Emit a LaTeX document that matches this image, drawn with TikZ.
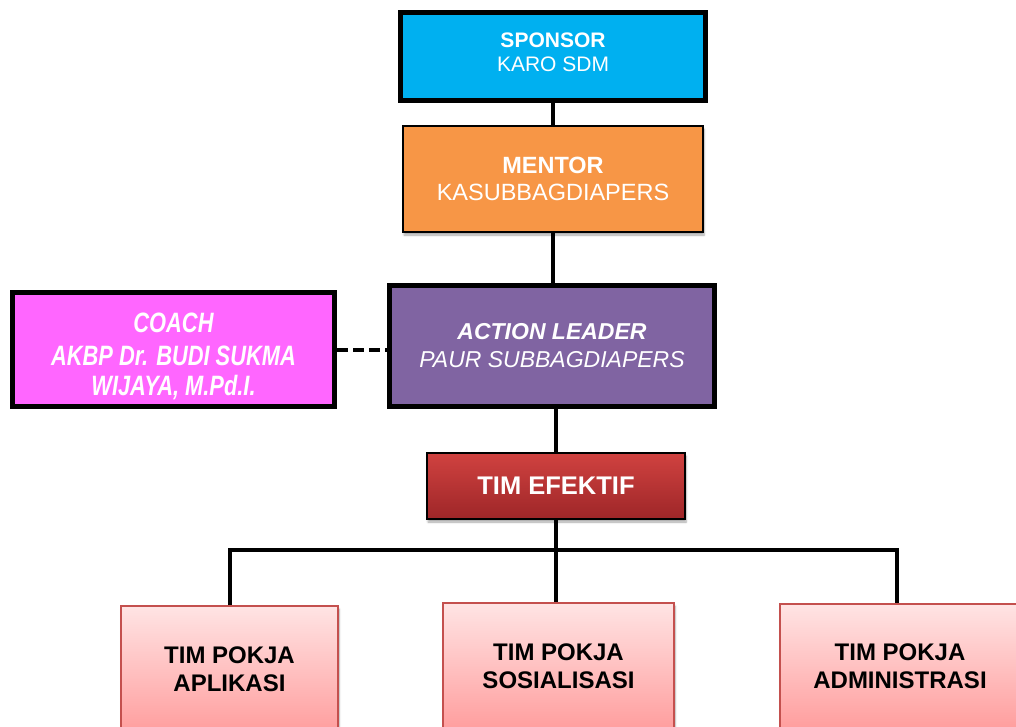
\documentclass[tikz,border=0pt]{standalone}
\usepackage{fontspec}
\setmainfont{Liberation Sans}
\newfontfamily\narrowfont[FakeStretch=0.78]{Liberation Sans}
\usetikzlibrary{shadows.blur}
\definecolor{sponsorc}{RGB}{0,176,240}
\definecolor{mentorc}{RGB}{247,150,70}
\definecolor{actionc}{RGB}{128,100,162}
\definecolor{coachc}{RGB}{255,102,255}
\definecolor{eftop}{RGB}{208,66,64}
\definecolor{efbot}{RGB}{158,38,40}
\definecolor{pktop}{RGB}{255,228,228}
\definecolor{pkbot}{RGB}{255,158,158}
\definecolor{pkline}{RGB}{196,80,78}
\begin{document}
\begin{tikzpicture}[x=1pt,y=-1pt,
  box/.style={draw=black, rectangle, inner sep=0pt, align=center, text=white},
  thickbox/.style={box, line width=5pt},
  thinbox/.style={box, line width=1.5pt},
  softshadow/.style={blur shadow={shadow xshift=1pt, shadow yshift=-3pt, shadow blur steps=6, shadow opacity=35}},
  pokja/.style={rectangle, inner sep=0pt, align=center, draw=pkline, line width=1.5pt,
    top color=pktop, bottom color=pkbot, text=black, softshadow,
    font=\fontsize{24}{28}\selectfont\bfseries},
  conn/.style={line width=4pt, draw=black}]
\useasboundingbox (0,0) rectangle (1016,726);
\begin{scope}
\clip (0,0) rectangle (1016,726);
\node[thickbox, fill=sponsorc, minimum width=305pt, minimum height=88pt,
  label={[inner sep=0pt, align=center, text=white, yshift=4pt,
    font=\fontsize{21}{24}\selectfont]center:{{\bfseries SPONSOR}\\KARO SDM}}] (sponsor) at (553,56.5) {};
\node[thinbox, fill=mentorc, minimum width=300pt, minimum height=106pt, softshadow,
  font=\fontsize{23.5}{27}\selectfont] (mentor) at (553,179)
  {{\bfseries MENTOR}\\KASUBBAGDIAPERS};
\node[thickbox, fill=actionc, minimum width=325pt, minimum height=121pt,
  font=\fontsize{23}{28}\selectfont\itshape] (action) at (552,346)
  {{\bfseries ACTION LEADER}\\PAUR SUBBAGDIAPERS};
\node[thickbox, fill=coachc, minimum width=322pt, minimum height=114pt,
  label={[inner sep=0pt, align=center, text=white, yshift=-7pt,
    font=\narrowfont\fontsize{28}{30}\selectfont\bfseries\itshape]center:{COACH\\[3pt]AKBP Dr. BUDI SUKMA\\WIJAYA, M.Pd.I.}}] (coach) at (173.5,349.5) {};
\node[thinbox, top color=eftop, bottom color=efbot, minimum width=258pt, minimum height=66pt, softshadow,
  font=\fontsize{25.5}{28}\selectfont\bfseries] (efektif) at (556,486)
  {TIM EFEKTIF};
\node[pokja, minimum width=217pt, minimum height=126pt] (p1) at (229.5,669)
  {TIM POKJA\\APLIKASI};
\node[pokja, minimum width=231pt, minimum height=126pt] (p2) at (558.5,666)
  {TIM POKJA\\SOSIALISASI};
\node[pokja, minimum width=240pt, minimum height=124pt] (p3) at (900,666)
  {TIM POKJA\\ADMINISTRASI};
\coordinate (p3top) at ([xshift=-3pt]p3.north);
\coordinate (j) at (556,550);
\end{scope}
\draw[conn] (sponsor.south) -- (mentor.north);
\draw[conn] (mentor.south) -- (mentor.south |- action.north);
\draw[conn] (efektif.north) -- (efektif.north |- action.south);
\draw[conn, dash pattern=on 11pt off 5pt] (coach.east) -- (coach.east -| action.west);
\draw[conn] (efektif.south) -- (efektif.south |- p2.north);
\draw[conn] (p1.north) -- (p1.north |- j) -- (p3top |- j) -- (p3top);
\end{tikzpicture}
\end{document}
